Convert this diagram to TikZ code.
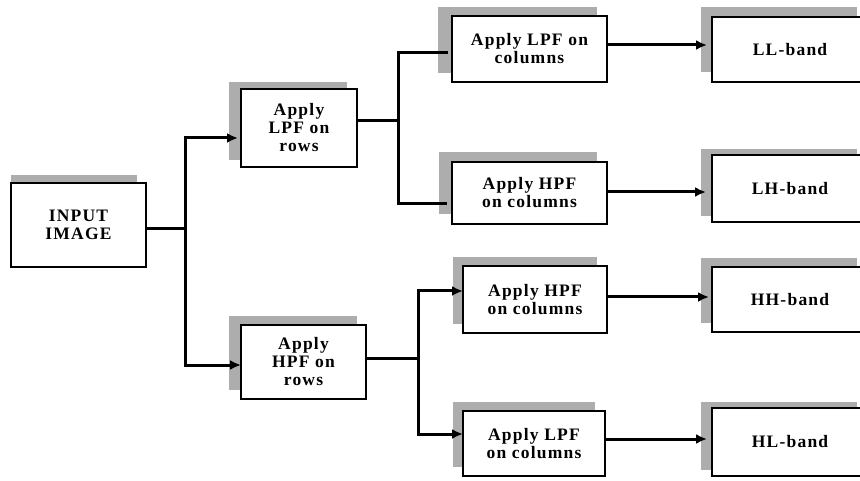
\documentclass[tikz,border=0pt]{standalone}
\usepackage{fontspec}
\setmainfont{Liberation Serif}[LetterSpace=7]
\usetikzlibrary{arrows.meta,backgrounds}
\tikzset{
  box/.style={draw=black, line width=2.6pt, fill=white, inner sep=0pt, outer sep=0pt,
    align=center, font=\fontsize{17.5}{18}\selectfont\bfseries},
  shd/.style={fill=black!32},
  ln/.style={line width=3pt, black},
  arr/.style={ln, -{Latex[length=11pt,width=10pt]}},
}
\newcommand{\shadowof}[5]{\fill[shd] ([shift={(#2,#3)}]#1.north west) rectangle ([shift={(#4,#5)}]#1.south east);}
\begin{document}
\begin{tikzpicture}[x=1pt,y=-1pt]
\useasboundingbox (0,0) rectangle (860,481);
\clip (0,0) rectangle (860,481);
% boxes
\node[box, minimum width=135pt, minimum height=84pt] (in) at (78.5,225) {INPUT\\IMAGE};
\node[box, minimum width=116pt, minimum height=78pt] (lpfr) at (299,128) {Apply\\LPF on\\rows};
\node[box, minimum width=125pt, minimum height=74pt] (hpfr) at (303.5,362) {Apply\\HPF on\\rows};
\node[box, minimum width=155pt, minimum height=66pt] (lpfc1) at (529.5,49) {Apply LPF on\\columns};
\node[box, minimum width=155pt, minimum height=62pt] (hpfc1) at (529.5,193) {Apply HPF\\on columns};
\node[box, minimum width=144pt, minimum height=67pt] (hpfc2) at (535,299.5) {Apply HPF\\on columns};
\node[box, minimum width=142pt, minimum height=65pt] (lpfc2) at (534,443.5) {Apply LPF\\on columns};
\node[box, minimum width=156pt, minimum height=65pt] (LL) at (790,49.5) {LL-band};
\node[box, minimum width=156pt, minimum height=67pt] (LH) at (790,188.5) {LH-band};
\node[box, minimum width=156pt, minimum height=65pt] (HH) at (790,299.5) {HH-band};
\node[box, minimum width=156pt, minimum height=68pt] (HL) at (790,442) {HL-band};
% shadows
\begin{scope}[on background layer]
\shadowof{in}{0}{-8}{-9}{-8}
\shadowof{lpfr}{-12}{-7}{-10}{-7}
\shadowof{hpfr}{-12}{-9}{-9}{-9}
\shadowof{lpfc1}{-14}{-9}{-10}{-9}
\shadowof{hpfc1}{-13}{-10}{-10}{-10}
\shadowof{hpfc2}{-10}{-9}{-10}{-9}
\shadowof{lpfc2}{-10}{-9}{-10}{-9}
\shadowof{LL}{-11}{-10}{-11}{-10}
\shadowof{LH}{-11}{-6}{-11}{-6}
\shadowof{HH}{-11}{-9}{-11}{-9}
\shadowof{HL}{-11}{-6}{-11}{-6}
\end{scope}
% connectors
\coordinate (j0) at (185,229);
\coordinate (j1) at (398,121);
\coordinate (j2) at (418,358);
\draw[ln] (in.east |- j0) -- (j0);
\draw[arr, shorten >=3pt] (j0) |- (lpfr.west |- 0,138);
\draw[arr] (j0) |- (hpfr.west |- 0,365);
\draw[ln] (lpfr.east |- j1) -- (j1);
\draw[ln, shorten >=4pt] (j1) |- (lpfc1.west |- 0,53);
\draw[ln, shorten >=5pt] (j1) |- (hpfc1.west |- 0,204);
\draw[ln] (hpfr.east |- j2) -- (j2);
\draw[arr] (j2) |- (hpfc2.west |- 0,291);
\draw[arr] (j2) |- (lpfc2.west |- 0,434);
\draw[arr, shorten >=5pt] (lpfc1.east |- 0,45) -- (LL.west |- 0,45);
\draw[arr, shorten >=6pt] (hpfc1.east |- 0,192) -- (LH.west |- 0,192);
\draw[arr, shorten >=3pt] (hpfc2.east |- 0,297) -- (HH.west |- 0,297);
\draw[arr, shorten >=5pt] (lpfc2.east |- 0,439) -- (HL.west |- 0,439);
\end{tikzpicture}
\end{document}
